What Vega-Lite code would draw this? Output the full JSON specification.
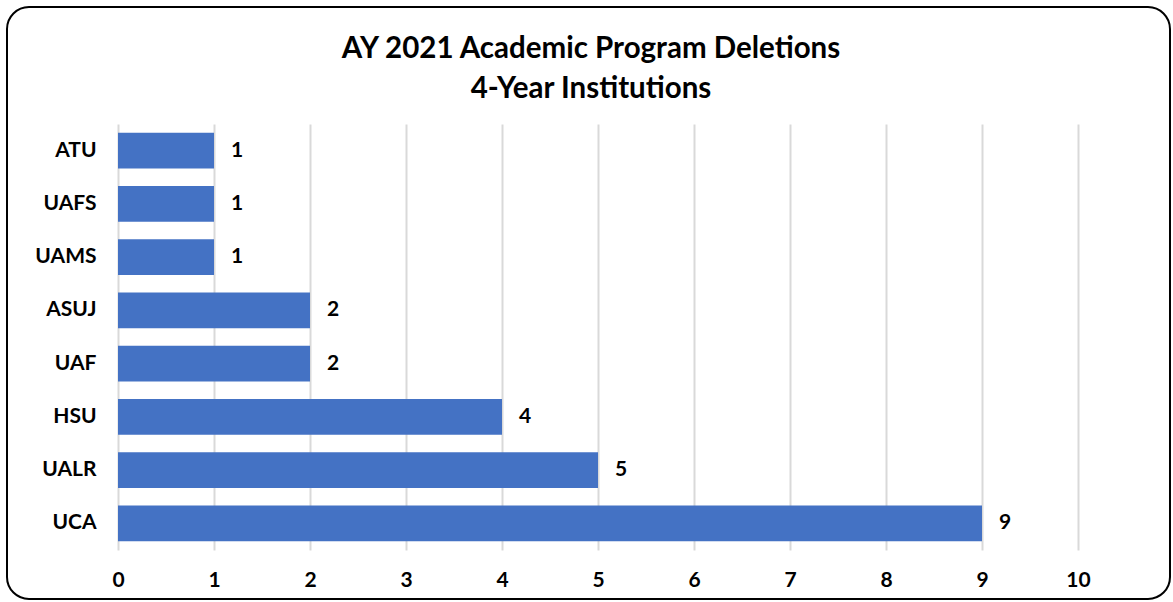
{
  "$schema": "https://vega.github.io/schema/vega-lite/v6.json",
  "autosize": {"type": "none"},
  "padding": {"left": 118, "top": 124, "right": 95, "bottom": 52},
  "width": 960,
  "height": 426,
  "background": "white",
  "title": {
    "text": ["AY 2021 Academic Program Deletions", "4-Year Institutions"],
    "font": "Lato",
    "fontSize": 29.5,
    "fontWeight": "bold",
    "color": "#000000",
    "lineHeight": 40,
    "anchor": "middle",
    "dx": -7,
    "offset": -98
  },
  "config": {
    "view": {"stroke": null},
    "axis": {"labelFont": "Lato", "labelFontWeight": "bold", "labelFontSize": 21, "labelColor": "#000000"}
  },
  "layer": [
    {
      "data": {"values": [{}]},
      "mark": {"type": "rect", "filled": false, "color": "#000000", "strokeWidth": 2, "cornerRadius": 22, "clip": false},
      "encoding": {
        "x": {"datum": -1.15625, "type": "quantitative"},
        "x2": {"datum": 10.9583},
        "y": {"datum": 543, "type": "quantitative", "scale": {"domain": [0, 426], "nice": false, "zero": false}, "axis": null},
        "y2": {"datum": -49}
      }
    },
    {
      "data": {
        "values": [
          {"institution": "ATU", "deletions": 1},
          {"institution": "UAFS", "deletions": 1},
          {"institution": "UAMS", "deletions": 1},
          {"institution": "ASUJ", "deletions": 2},
          {"institution": "UAF", "deletions": 2},
          {"institution": "HSU", "deletions": 4},
          {"institution": "UALR", "deletions": 5},
          {"institution": "UCA", "deletions": 9}
        ]
      },
      "encoding": {
        "y": {
          "field": "institution",
          "type": "nominal",
          "sort": null,
          "scale": {"paddingInner": 0.325, "paddingOuter": 0.1625},
          "axis": {"title": null, "domain": false, "ticks": false, "labelPadding": 22}
        },
        "x": {
          "field": "deletions",
          "type": "quantitative",
          "scale": {"domain": [0, 10], "nice": false},
          "axis": {"title": null, "values": [0,1,2,3,4,5,6,7,8,9,10], "domain": false, "ticks": false, "labelFlush": false, "labelPadding": 19, "grid": true, "gridColor": "#d9d9d9", "gridWidth": 2, "format": "d"}
        }
      },
      "layer": [
        {"mark": {"type": "bar", "color": "#4472C4"}},
        {
          "mark": {"type": "text", "align": "left", "baseline": "middle", "dx": 17, "font": "Lato", "fontSize": 21, "fontWeight": "bold", "color": "#000000"},
          "encoding": {"text": {"field": "deletions", "type": "quantitative"}}
        }
      ]
    }
  ],
  "resolve": {"scale": {"y": "independent"}}
}
